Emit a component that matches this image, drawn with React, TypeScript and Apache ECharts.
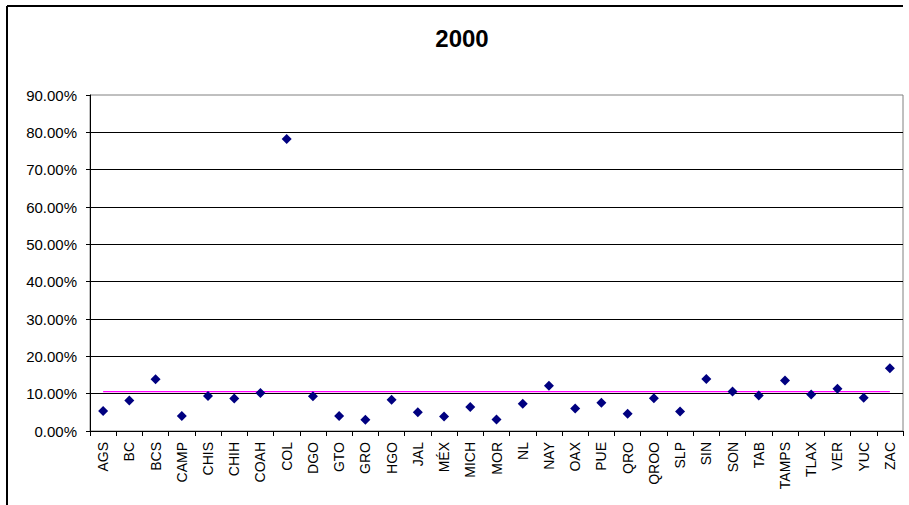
import React, { useEffect, useRef } from "react";
import * as echarts from "echarts";

const categories = [
  "AGS", "BC", "BCS", "CAMP", "CHIS", "CHIH", "COAH", "COL", "DGO", "GTO", "GRO",
  "HGO", "JAL", "MÉX", "MICH", "MOR", "NL", "NAY", "OAX", "PUE", "QRO", "QROO",
  "SLP", "SIN", "SON", "TAB", "TAMPS", "TLAX", "VER", "YUC", "ZAC",
];

const values = [
  0.0534, 0.082, 0.1385, 0.04, 0.094, 0.087, 0.102, 0.782, 0.093, 0.04, 0.030,
  0.084, 0.050, 0.039, 0.064, 0.031, 0.073, 0.1215, 0.060, 0.076, 0.046, 0.0875,
  0.052, 0.139, 0.106, 0.095, 0.135, 0.098, 0.1135, 0.089, 0.168,
];

const averageValue = 0.1055;

const yTicks = [0, 0.1, 0.2, 0.3, 0.4, 0.5, 0.6, 0.7, 0.8, 0.9];

const titleText = "2000";

export default function App() {
  const ref = useRef<HTMLDivElement>(null);

  useEffect(() => {
    document.body.style.margin = "0";
    if (!ref.current) return;
    const chart = echarts.init(ref.current, undefined, { renderer: "svg" });
    const font = "Liberation Sans, Arial, sans-serif";
    chart.setOption({
      animation: false,
      backgroundColor: "#ffffff",
      grid: {
        left: 90,
        right: 6,
        top: 95,
        bottom: 74,
        show: true,
        borderColor: "#808080",
        borderWidth: 1,
        backgroundColor: "transparent",
      },
      graphic: [
        {
          type: "line",
          shape: { x1: 7, y1: 6, x2: 903, y2: 6 },
          style: { stroke: "#000", lineWidth: 2 },
          silent: true,
        },
        {
          type: "line",
          shape: { x1: 7, y1: 6, x2: 7, y2: 505 },
          style: { stroke: "#000", lineWidth: 2 },
          silent: true,
        },
        {
          type: "text",
          x: 462,
          y: 38,
          style: {
            text: titleText,
            font: "bold 24px " + font,
            fill: "#000",
            align: "center",
            verticalAlign: "middle",
          },
        },
      ],
      xAxis: {
        type: "category",
        data: categories,
        boundaryGap: true,
        axisLine: { show: true, lineStyle: { color: "#000", width: 1 } },
        axisTick: { show: true, length: 5, interval: 0, lineStyle: { color: "#000" } },
        axisLabel: {
          interval: 0,
          rotate: 90,
          margin: 11,
          fontSize: 14,
          fontFamily: font,
          color: "#000",
        },
        splitLine: { show: false },
      },
      yAxis: {
        type: "value",
        min: yTicks[0],
        max: yTicks[yTicks.length - 1],
        interval: yTicks[1] - yTicks[0],
        axisLine: { show: true, lineStyle: { color: "#000", width: 1 } },
        axisTick: { show: true, length: 4, lineStyle: { color: "#000" } },
        axisLabel: {
          margin: 13,
          fontSize: 15,
          fontFamily: font,
          color: "#000",
          formatter: (v: number) => (v * 100).toFixed(2) + "%",
        },
        splitLine: {
          show: true,
          showMaxLine: false,
          lineStyle: { color: "#000", width: 1 },
        },
      },
      series: [
        {
          type: "line",
          data: categories.map(() => averageValue),
          symbol: "none",
          lineStyle: { color: "#ff00ff", width: 1.2, opacity: 1 },
          itemStyle: { color: "#ff00ff" },
          z: 2,
        },
        {
          type: "scatter",
          data: values,
          symbol: "diamond",
          symbolSize: 10,
          itemStyle: { color: "#000080", opacity: 1 },
          z: 3,
        },
      ],
    });
    return () => chart.dispose();
  }, []);

  return <div ref={ref} style={{ width: 909, height: 505 }} />;
}
